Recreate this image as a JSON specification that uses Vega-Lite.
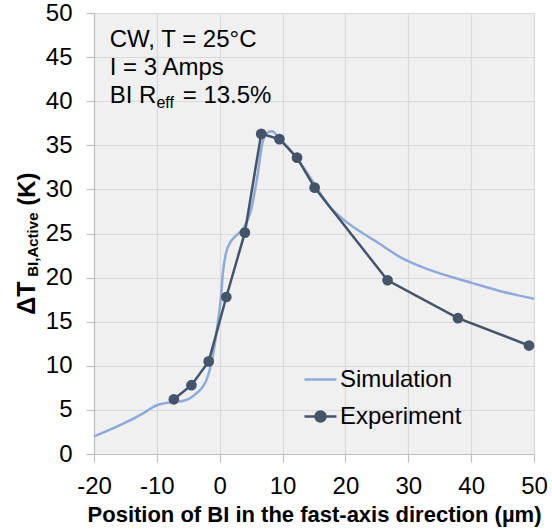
{
  "$schema": "https://vega.github.io/schema/vega-lite/v6.json",
  "autosize": "none",
  "width": 440,
  "height": 441,
  "padding": {"left": 94, "top": 13, "right": 18, "bottom": 77},
  "background": "white",
  "config": {
    "font": "Liberation Sans",
    "view": {"fill": "#f0f0f0", "stroke": null},
    "axis": {
      "gridColor": "#d9d9d9",
      "gridWidth": 1.2,
      "domainColor": "#bfbfbf",
      "domainWidth": 1.2,
      "tickColor": "#bfbfbf",
      "tickWidth": 1.2,
      "tickSize": 8,
      "labelFontSize": 24,
      "labelColor": "#000000",
      "labelFont": "Liberation Sans",
      "labelFlush": false,
      "labelOverlap": false,
      "titleFont": "Liberation Sans",
      "titleColor": "#000000"
    }
  },
  "datasets": {
    "main": [
      {"series": "Simulation", "x": -20, "y": 2.0},
      {"series": "Simulation", "x": -17, "y": 2.9},
      {"series": "Simulation", "x": -14.3, "y": 3.8},
      {"series": "Simulation", "x": -12, "y": 4.7},
      {"series": "Simulation", "x": -10.1, "y": 5.5},
      {"series": "Simulation", "x": -8, "y": 5.85},
      {"series": "Simulation", "x": -5.9, "y": 6.0},
      {"series": "Simulation", "x": -4.0, "y": 6.7},
      {"series": "Simulation", "x": -2.1, "y": 8.4},
      {"series": "Simulation", "x": -1.1, "y": 11.1},
      {"series": "Simulation", "x": -0.3, "y": 14.9},
      {"series": "Simulation", "x": 0.2, "y": 17.8},
      {"series": "Simulation", "x": 0.5, "y": 20.5},
      {"series": "Simulation", "x": 1.0, "y": 22.8},
      {"series": "Simulation", "x": 1.6, "y": 23.9},
      {"series": "Simulation", "x": 2.5, "y": 24.7},
      {"series": "Simulation", "x": 3.7, "y": 25.5},
      {"series": "Simulation", "x": 5.0, "y": 27.7},
      {"series": "Simulation", "x": 6.0, "y": 31.5},
      {"series": "Simulation", "x": 6.8, "y": 35.3},
      {"series": "Simulation", "x": 7.5, "y": 36.4},
      {"series": "Simulation", "x": 8.3, "y": 36.6},
      {"series": "Simulation", "x": 9.5, "y": 35.8},
      {"series": "Simulation", "x": 12.1, "y": 33.7},
      {"series": "Simulation", "x": 14.8, "y": 30.9},
      {"series": "Simulation", "x": 17.4, "y": 28.1},
      {"series": "Simulation", "x": 20.0, "y": 26.4},
      {"series": "Simulation", "x": 22.7, "y": 25.05},
      {"series": "Simulation", "x": 25.3, "y": 23.9},
      {"series": "Simulation", "x": 29, "y": 22.2},
      {"series": "Simulation", "x": 33.3, "y": 20.9},
      {"series": "Simulation", "x": 40.1, "y": 19.4},
      {"series": "Simulation", "x": 45, "y": 18.4},
      {"series": "Simulation", "x": 50, "y": 17.6},
      {"series": "Experiment", "x": -7.3, "y": 6.2},
      {"series": "Experiment", "x": -4.5, "y": 7.8},
      {"series": "Experiment", "x": -1.75, "y": 10.5},
      {"series": "Experiment", "x": 1.05, "y": 17.8},
      {"series": "Experiment", "x": 4.0, "y": 25.1},
      {"series": "Experiment", "x": 6.6, "y": 36.3},
      {"series": "Experiment", "x": 9.5, "y": 35.7},
      {"series": "Experiment", "x": 12.3, "y": 33.6},
      {"series": "Experiment", "x": 15.1, "y": 30.2},
      {"series": "Experiment", "x": 26.7, "y": 19.7},
      {"series": "Experiment", "x": 37.9, "y": 15.4},
      {"series": "Experiment", "x": 49.2, "y": 12.3}
    ]
  },
  "layer": [
    {
      "data": {"name": "main"},
      "transform": [{"filter": "datum.series === 'Simulation'"}],
      "mark": {"type": "line", "strokeWidth": 2.5, "interpolate": "monotone"},
      "encoding": {
        "x": {
          "field": "x",
          "type": "quantitative",
          "scale": {"domain": [-20, 50], "nice": false, "zero": false},
          "axis": {
            "values": [-20, -10, 0, 10, 20, 30, 40, 50],
            "labelExpr": "'' + datum.value",
            "labelPadding": 12,
            "title": "Position of BI in the fast-axis direction (µm)",
            "titleFontSize": 22,
            "titleFontWeight": "bold",
            "titlePadding": 6
          }
        },
        "y": {
          "field": "y",
          "type": "quantitative",
          "scale": {"domain": [0, 50], "nice": false},
          "axis": {
            "values": [0, 5, 10, 15, 20, 25, 30, 35, 40, 45, 50],
            "labelPadding": 14,
            "title": null
          }
        },
        "color": {
          "field": "series",
          "type": "nominal",
          "scale": {"domain": ["Simulation", "Experiment"], "range": ["#8eaadb", "#44546a"]},
          "legend": {
            "orient": "none",
            "legendX": 209,
            "legendY": 349,
            "title": null,
            "padding": 0,
            "labelFontSize": 24,
            "labelFont": "Liberation Sans",
            "labelColor": "#000000",
            "labelOffset": 2,
            "symbolSize": 1024,
            "symbolStrokeWidth": 2.5,
            "rowPadding": 7,
            "values": ["Simulation", "Experiment"],
            "encode": {
              "symbols": {
                "update": {
                  "shape": {"signal": "datum.value === 'Experiment' ? 'M-1,0L1,0M0.31,0A0.31,0.31,0,1,1,-0.31,0A0.31,0.31,0,1,1,0.31,0Z' : 'M-1,0L1,0'"},
                  "fill": {"signal": "datum.value === 'Experiment' ? '#44546a' : 'transparent'"},
                  "stroke": {"signal": "datum.value === 'Experiment' ? '#44546a' : '#8eaadb'"}
                }
              }
            }
          }
        }
      }
    },
    {
      "data": {"name": "main"},
      "transform": [{"filter": "datum.series === 'Experiment'"}],
      "mark": {"type": "line", "strokeWidth": 2.5, "interpolate": "linear"},
      "encoding": {
        "x": {"field": "x", "type": "quantitative"},
        "y": {"field": "y", "type": "quantitative"},
        "color": {"field": "series", "type": "nominal"}
      }
    },
    {
      "data": {"name": "main"},
      "transform": [{"filter": "datum.series === 'Experiment'"}],
      "mark": {"type": "point", "filled": true, "size": 115, "opacity": 1, "color": "#44546a"},
      "encoding": {
        "x": {"field": "x", "type": "quantitative"},
        "y": {"field": "y", "type": "quantitative"}
      }
    },
    {
      "data": {"values": [{"t": 1}]},
      "mark": {"type": "text", "text": "CW, T = 25°C", "fontSize": 24, "align": "left", "baseline": "alphabetic", "color": "#000000"},
      "encoding": {"x": {"datum": -17.5}, "y": {"datum": 46.2}}
    },
    {
      "data": {"values": [{"t": 1}]},
      "mark": {"type": "text", "text": "I = 3 Amps", "fontSize": 24, "align": "left", "baseline": "alphabetic", "color": "#000000"},
      "encoding": {"x": {"datum": -17.5}, "y": {"datum": 43.0}}
    },
    {
      "data": {"values": [{"t": 1}]},
      "mark": {"type": "text", "text": "BI R", "fontSize": 24, "align": "left", "baseline": "alphabetic", "color": "#000000"},
      "encoding": {"x": {"datum": -17.5}, "y": {"datum": 39.8}}
    },
    {
      "data": {"values": [{"t": 1}]},
      "mark": {"type": "text", "text": "eff", "fontSize": 16, "align": "left", "baseline": "alphabetic", "dx": 46.7, "dy": 5, "color": "#000000"},
      "encoding": {"x": {"datum": -17.5}, "y": {"datum": 39.8}}
    },
    {
      "data": {"values": [{"t": 1}]},
      "mark": {"type": "text", "text": "= 13.5%", "fontSize": 24, "align": "left", "baseline": "alphabetic", "dx": 73, "color": "#000000"},
      "encoding": {"x": {"datum": -17.5}, "y": {"datum": 39.8}}
    },
    {
      "data": {"values": [{"t": 1}]},
      "mark": {"type": "text", "text": "ΔT", "fontSize": 25, "fontWeight": "bold", "angle": 270, "align": "left", "baseline": "alphabetic", "color": "#000000"},
      "encoding": {"x": {"datum": -29.4}, "y": {"datum": 15.8}}
    },
    {
      "data": {"values": [{"t": 1}]},
      "mark": {"type": "text", "text": "BI,Active", "fontSize": 15, "fontWeight": "bold", "angle": 270, "align": "left", "baseline": "alphabetic", "color": "#000000"},
      "encoding": {"x": {"datum": -28.95}, "y": {"datum": 20.1}}
    },
    {
      "data": {"values": [{"t": 1}]},
      "mark": {"type": "text", "text": "(K)", "fontSize": 24, "fontWeight": "bold", "angle": 270, "align": "left", "baseline": "alphabetic", "color": "#000000"},
      "encoding": {"x": {"datum": -29.4}, "y": {"datum": 28.15}}
    }
  ]
}
